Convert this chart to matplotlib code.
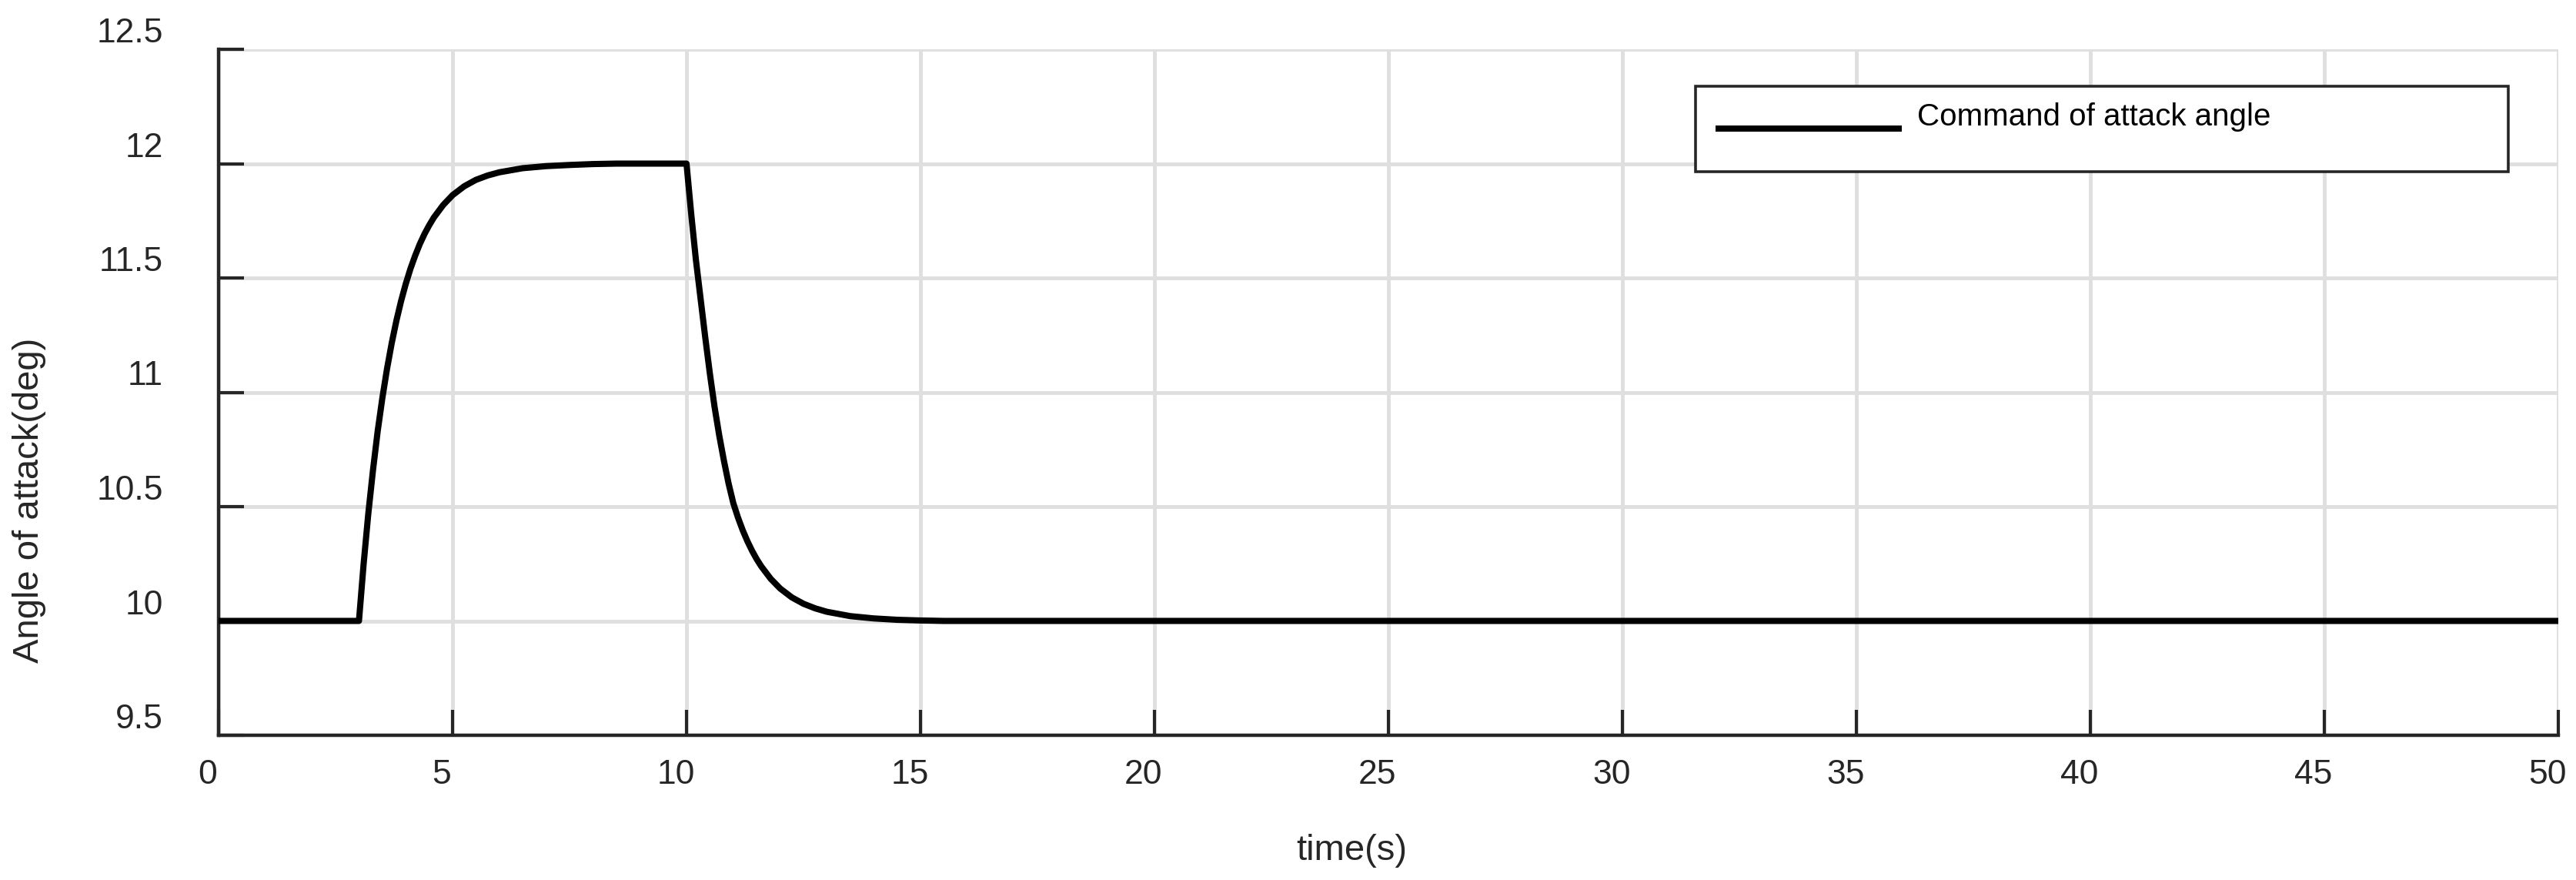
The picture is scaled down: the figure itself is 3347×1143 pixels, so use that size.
import matplotlib
matplotlib.use("Agg")
import matplotlib.pyplot as plt
from matplotlib.transforms import ScaledTranslation
from matplotlib.patches import Rectangle
from matplotlib.lines import Line2D

plt.rcParams['font.family'] = ['Liberation Sans', 'DejaVu Sans']

# ---- data ----
time_s = [0.0, 3.0, 3.1, 3.2, 3.3, 3.4, 3.5, 3.6, 3.7, 3.8, 3.9, 4.0, 4.1, 4.2, 4.3, 4.4,
          4.5, 4.6, 4.8, 5.0, 5.25, 5.5, 5.75, 6.0, 6.5, 7.0, 7.5, 8.0, 8.5, 10.0,
          10.1, 10.2, 10.3, 10.4, 10.5, 10.6, 10.7, 10.8, 10.9, 11.0, 11.1, 11.2, 11.3,
          11.4, 11.5, 11.6, 11.8, 12.0, 12.25, 12.5, 12.75, 13.0, 13.5, 14.0, 14.5,
          15.0, 15.5, 50.0]
alpha_cmd = [10.0, 10.0, 10.25, 10.47, 10.66, 10.83, 10.975, 11.103, 11.215, 11.313, 11.399,
             11.474, 11.54, 11.597, 11.648, 11.692, 11.73, 11.764, 11.819, 11.862, 11.901,
             11.929, 11.948, 11.962, 11.98, 11.989, 11.994, 11.998, 12.0, 12.0,
             11.78, 11.58, 11.41, 11.24, 11.08, 10.935, 10.81, 10.70, 10.60, 10.515, 10.452,
             10.397, 10.349, 10.307, 10.27, 10.238, 10.184, 10.142, 10.103, 10.075, 10.055,
             10.04, 10.021, 10.011, 10.005, 10.002, 10.0, 10.0]
series_label = 'Command of attack angle'
x_ticks = [0, 5, 10, 15, 20, 25, 30, 35, 40, 45, 50]
x_tick_labels = ['0', '5', '10', '15', '20', '25', '30', '35', '40', '45', '50']
y_ticks = [9.5, 10, 10.5, 11, 11.5, 12, 12.5]
y_tick_labels = ['9.5', '10', '10.5', '11', '11.5', '12', '12.5']
x_label = 'time(s)'
y_label = 'Angle of attack(deg)'

W, H = 3348, 1143
DARK = '#262626'

fig = plt.figure(figsize=(W / 100, H / 100), dpi=100)
ax = fig.add_axes([284 / W, 188 / H, 3040 / W, 891 / H])

ax.plot(time_s, alpha_cmd, color='black', lw=5.8, solid_joinstyle='round', zorder=3)

ax.set_xlim(0, 50)
ax.set_ylim(9.5, 12.5)
ax.set_xticks(x_ticks)
ax.set_xticklabels(x_tick_labels)
ax.set_yticks(y_ticks)
ax.set_yticklabels(y_tick_labels)

ax.grid(True, color='#dfdfdf', lw=3.5)
ax.set_axisbelow(True)

for s in ['top', 'right']:
    ax.spines[s].set_visible(False)
for s in ['left', 'bottom']:
    ax.spines[s].set_color(DARK)
    ax.spines[s].set_linewidth(3.2)

ax.tick_params(direction='in', length=24, width=3, color=DARK,
               labelsize=32, labelcolor=DARK)
ax.tick_params(axis='x', pad=22)
ax.tick_params(axis='y', pad=52)

for lab in ax.get_yticklabels():
    lab.set_verticalalignment('bottom')
shift = ScaledTranslation(-14 / 100, 0, fig.dpi_scale_trans)
for lab in ax.get_xticklabels():
    lab.set_transform(lab.get_transform() + shift)

ax.set_xlabel(x_label, fontsize=34, color=DARK, va='center')
ax.xaxis.set_label_coords((1756 - 284) / 3040, (955 - 1105) / 891)
ax.set_ylabel(y_label, fontsize=34, color=DARK, va='center')
ax.yaxis.set_label_coords((38 - 284) / 3040, (955 - 650) / 891)

# legend box (drawn in figure coordinates)
fig.add_artist(Rectangle((2203 / W, 1 - 223 / H), 1056 / W, 111 / H,
                         transform=fig.transFigure, facecolor='white',
                         edgecolor=DARK, lw=2.6, zorder=5))
fig.add_artist(Line2D([2229 / W, 2471 / W], [1 - 167 / H, 1 - 167 / H],
                      transform=fig.transFigure, color='black', lw=5.8,
                      solid_capstyle='butt', zorder=6))
fig.text(2491 / W, 1 - 152 / H, series_label, fontsize=29, color='black',
         ha='left', va='center', zorder=7)

fig.savefig('out.png', dpi=100, facecolor='white')
